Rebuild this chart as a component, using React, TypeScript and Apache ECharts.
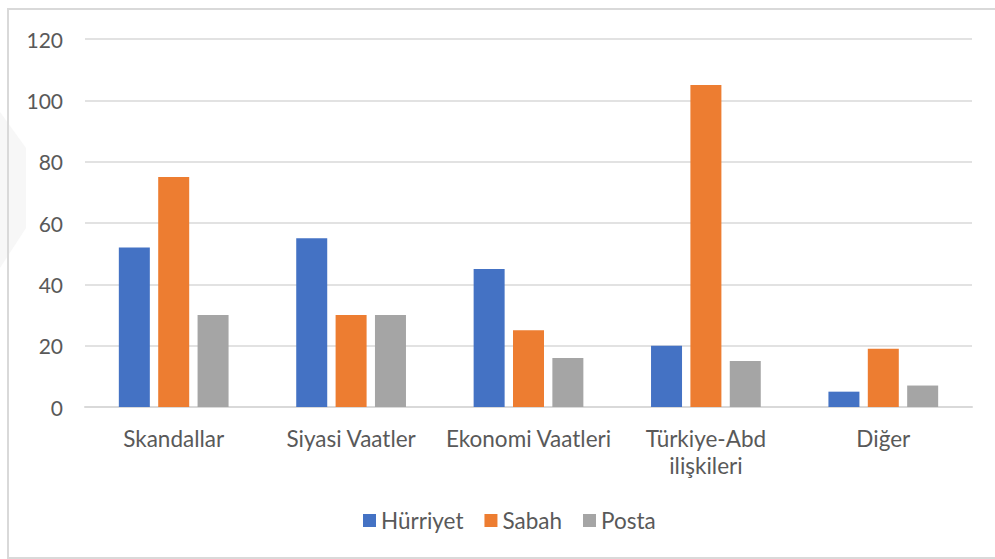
import React, { useEffect, useRef } from "react";
import * as echarts from "echarts";

const categories = ["Skandallar", "Siyasi Vaatler", "Ekonomi Vaatleri", "Türkiye-Abd\nilişkileri", "Diğer"];
const hurriyet = [52, 55, 45, 20, 5];
const sabah = [75, 30, 25, 105, 19];
const posta = [30, 30, 16, 15, 7];
const seriesNames = ["Hürriyet", "Sabah", "Posta"];
const colors = ["#4472C4", "#ED7D31", "#A5A5A5"];

const FONT = "Lato, 'Open Sans', sans-serif";

export default function App() {
  const ref = useRef<HTMLDivElement>(null);
  useEffect(() => {
    if (!ref.current) return;
    const chart = echarts.init(ref.current, undefined, { renderer: "svg" });
    const data = [hurriyet, sabah, posta];
    chart.setOption({
      animation: false,
      backgroundColor: "#ffffff",
      textStyle: { fontFamily: FONT },
      graphic: [
        {
          type: "polygon",
          z: -10,
          shape: { points: [[0, 112], [26, 148], [26, 228], [0, 268]] },
          style: { fill: "#f7f7f7" },
        },
        {
          type: "rect",
          z: 100,
          shape: { x: 8, y: 9, width: 1000, height: 549 },
          style: { fill: "none", stroke: "#d9d9d9", lineWidth: 2 },
        },
      ],
      legend: {
        bottom: 22,
        left: 358,
        itemWidth: 13,
        itemHeight: 13,
        itemGap: 21,
        icon: "rect",
        textStyle: { fontSize: 22.5, color: "#595959", fontFamily: FONT, padding: [0, 0, 0, 0] },
        data: seriesNames,
      },
      grid: { left: 85, right: 23, top: 39, bottom: 152, containLabel: false },
      xAxis: {
        type: "category",
        data: categories,
        axisLine: { show: true, lineStyle: { color: "#d9d9d9", width: 2 } },
        axisTick: { show: false },
        axisLabel: {
          fontSize: 22.5,
          color: "#595959",
          fontFamily: FONT,
          margin: 18,
          lineHeight: 27,
          interval: 0,
        },
      },
      yAxis: {
        type: "value",
        min: 0,
        max: 120,
        interval: 20,
        axisLine: { show: false },
        axisTick: { show: false },
        splitLine: { lineStyle: { color: "#d9d9d9", width: 1.5 } },
        axisLabel: { fontSize: 21, color: "#595959", fontFamily: FONT, margin: 22 },
      },
      series: seriesNames.map((name, i) => ({
        name,
        type: "bar",
        data: data[i],
        barWidth: 31,
        barGap: "27%",
        itemStyle: { color: colors[i] },
      })),
    });
    return () => chart.dispose();
  }, []);
  return <div ref={ref} style={{ width: 995, height: 559, position: "absolute", left: 0, top: 0 }} />;
}
